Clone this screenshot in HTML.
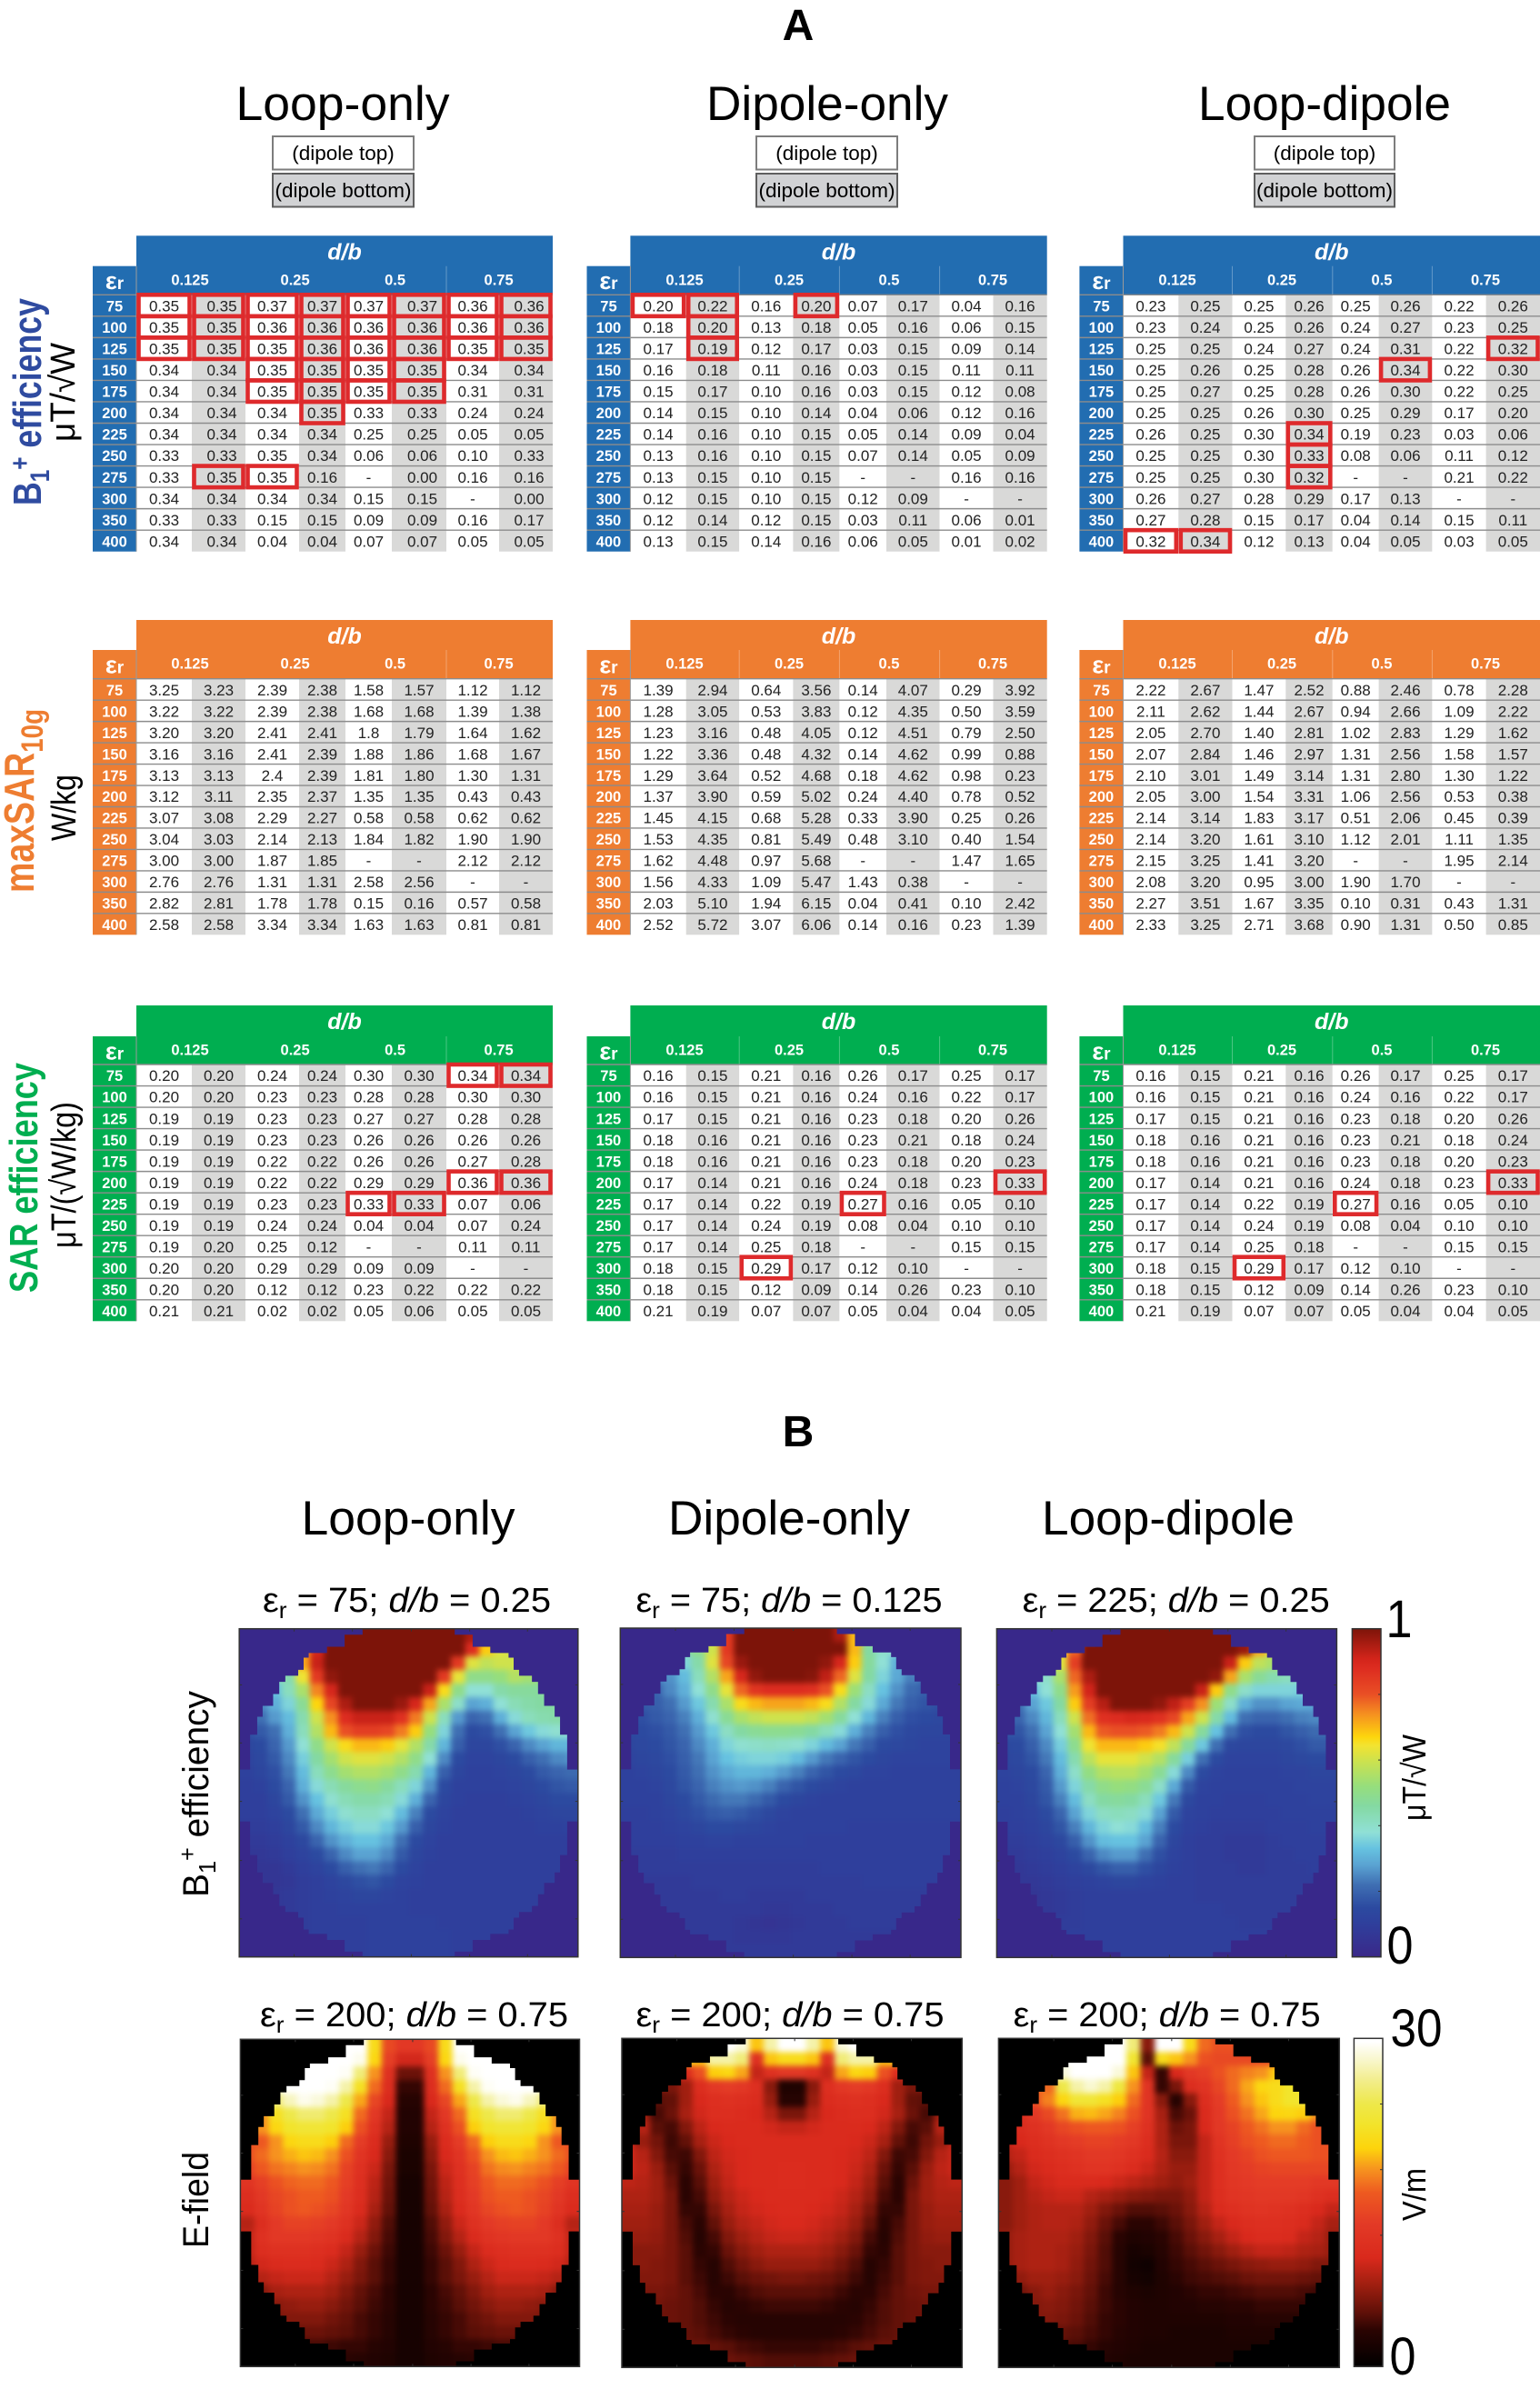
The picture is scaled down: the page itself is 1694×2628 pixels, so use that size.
<!DOCTYPE html>
<html>
<head>
<meta charset="utf-8">
<title>Coil performance tables and field maps</title>
<style>
html,body{margin:0;padding:0;background:#fff;}
svg{display:block;font-family:"Liberation Sans",sans-serif;}
</style>
</head>
<body>
<svg id="fig" xmlns="http://www.w3.org/2000/svg" width="1694" height="2628" viewBox="0 0 1694 2628">
<rect x="0" y="0" width="1694" height="2628" fill="#fff"/>
<defs>
<filter id="soften" color-interpolation-filters="sRGB" x="-10%" y="-10%" width="120%" height="120%"><feGaussianBlur stdDeviation="3.2"/></filter>
<linearGradient id="jetGrad" x1="0" y1="1" x2="0" y2="0"></linearGradient>
<linearGradient id="hotGrad" x1="0" y1="1" x2="0" y2="0"></linearGradient>
</defs>

<text x="878" y="44" font-size="48" font-weight="bold" text-anchor="middle">A</text>
<text x="377" y="132" font-size="53" text-anchor="middle" textLength="235" lengthAdjust="spacingAndGlyphs">Loop-only</text>
<text x="910" y="132" font-size="53" text-anchor="middle" textLength="266" lengthAdjust="spacingAndGlyphs">Dipole-only</text>
<text x="1457" y="132" font-size="53" text-anchor="middle" textLength="278" lengthAdjust="spacingAndGlyphs">Loop-dipole</text>

<g>
<rect x="300" y="150" width="155" height="36.5" fill="#fff" stroke="#7d7d7d" stroke-width="2"/>
<text x="377.500" y="176" font-size="22.500" text-anchor="middle">(dipole top)</text>
<rect x="300" y="191" width="155" height="36.5" fill="#d1d2d4" stroke="#5f5f5f" stroke-width="2"/>
<text x="377.500" y="217" font-size="22.500" text-anchor="middle">(dipole bottom)</text>
</g>
<g>
<rect x="832" y="150" width="155" height="36.5" fill="#fff" stroke="#7d7d7d" stroke-width="2"/>
<text x="909.500" y="176" font-size="22.500" text-anchor="middle">(dipole top)</text>
<rect x="832" y="191" width="155" height="36.5" fill="#d1d2d4" stroke="#5f5f5f" stroke-width="2"/>
<text x="909.500" y="217" font-size="22.500" text-anchor="middle">(dipole bottom)</text>
</g>
<g>
<rect x="1380" y="150" width="154" height="36.5" fill="#fff" stroke="#7d7d7d" stroke-width="2"/>
<text x="1457" y="176" font-size="22.500" text-anchor="middle">(dipole top)</text>
<rect x="1380" y="191" width="154" height="36.5" fill="#d1d2d4" stroke="#5f5f5f" stroke-width="2"/>
<text x="1457" y="217" font-size="22.500" text-anchor="middle">(dipole bottom)</text>
</g>

<text transform="translate(45,556) rotate(-90)" font-size="44" font-weight="bold" fill="#2f4ba0" textLength="228" lengthAdjust="spacingAndGlyphs">B<tspan font-size="30" dy="9">1</tspan><tspan font-size="30" dy="-22">+</tspan><tspan dy="13"> efficiency</tspan></text>
<text transform="translate(82,486) rotate(-90)" font-size="38" textLength="109" lengthAdjust="spacingAndGlyphs">μT/√W</text>
<text transform="translate(37,982) rotate(-90)" font-size="46" font-weight="bold" fill="#ee7d31" textLength="202" lengthAdjust="spacingAndGlyphs">maxSAR<tspan font-size="34" dy="10">10g</tspan></text>
<text transform="translate(83,925) rotate(-90)" font-size="38" textLength="73" lengthAdjust="spacingAndGlyphs">W/kg</text>
<text transform="translate(41,1422) rotate(-90)" font-size="44" font-weight="bold" fill="#00ae50" textLength="253" lengthAdjust="spacingAndGlyphs">SAR efficiency</text>
<text transform="translate(83,1373) rotate(-90)" font-size="38" textLength="161" lengthAdjust="spacingAndGlyphs">μT/(√W/kg)</text>

<g id="tables"></g>

<text x="878" y="1591" font-size="48" font-weight="bold" text-anchor="middle">B</text>
<text x="449" y="1688" font-size="53" text-anchor="middle" textLength="235" lengthAdjust="spacingAndGlyphs">Loop-only</text>
<text x="868" y="1688" font-size="53" text-anchor="middle" textLength="266" lengthAdjust="spacingAndGlyphs">Dipole-only</text>
<text x="1285" y="1688" font-size="53" text-anchor="middle" textLength="278" lengthAdjust="spacingAndGlyphs">Loop-dipole</text>

<text x="289" y="1773" font-size="38" textLength="317" lengthAdjust="spacingAndGlyphs">ε<tspan font-size="25" dy="7">r</tspan><tspan dy="-7"> = 75; </tspan><tspan font-style="italic">d/b</tspan> = 0.25</text>
<text x="699.500" y="1773" font-size="38" textLength="337" lengthAdjust="spacingAndGlyphs">ε<tspan font-size="25" dy="7">r</tspan><tspan dy="-7"> = 75; </tspan><tspan font-style="italic">d/b</tspan> = 0.125</text>
<text x="1124.700" y="1773" font-size="38" textLength="338" lengthAdjust="spacingAndGlyphs">ε<tspan font-size="25" dy="7">r</tspan><tspan dy="-7"> = 225; </tspan><tspan font-style="italic">d/b</tspan> = 0.25</text>
<text x="286" y="2229" font-size="38" textLength="339" lengthAdjust="spacingAndGlyphs">ε<tspan font-size="25" dy="7">r</tspan><tspan dy="-7"> = 200; </tspan><tspan font-style="italic">d/b</tspan> = 0.75</text>
<text x="699.500" y="2229" font-size="38" textLength="339" lengthAdjust="spacingAndGlyphs">ε<tspan font-size="25" dy="7">r</tspan><tspan dy="-7"> = 200; </tspan><tspan font-style="italic">d/b</tspan> = 0.75</text>
<text x="1114.600" y="2229" font-size="38" textLength="338" lengthAdjust="spacingAndGlyphs">ε<tspan font-size="25" dy="7">r</tspan><tspan dy="-7"> = 200; </tspan><tspan font-style="italic">d/b</tspan> = 0.75</text>

<text transform="translate(229,2087) rotate(-90)" font-size="40" textLength="227" lengthAdjust="spacingAndGlyphs">B<tspan font-size="26" dy="8">1</tspan><tspan font-size="26" dy="-22">+</tspan><tspan dy="14"> efficiency</tspan></text>
<text transform="translate(229,2473) rotate(-90)" font-size="40" textLength="106" lengthAdjust="spacingAndGlyphs">E-field</text>

<g id="maps"></g>

<rect x="1487.400" y="1791.700" width="31.600" height="361" fill="url(#jetGrad)" stroke="#333" stroke-width="1.500"/>
<rect x="1489.400" y="2242.300" width="31.600" height="361" fill="url(#hotGrad)" stroke="#333" stroke-width="1.500"/>
<g id="cbTicks"></g>
<text x="1539" y="1801" font-size="58" text-anchor="middle" textLength="29" lengthAdjust="spacingAndGlyphs">1</text>
<text x="1540" y="2160" font-size="58" text-anchor="middle" textLength="29" lengthAdjust="spacingAndGlyphs">0</text>
<text transform="translate(1568,2003) rotate(-90)" font-size="36" textLength="95" lengthAdjust="spacingAndGlyphs">μT/√W</text>
<text x="1558" y="2251" font-size="58" text-anchor="middle" textLength="57" lengthAdjust="spacingAndGlyphs">30</text>
<text x="1543" y="2612" font-size="58" text-anchor="middle" textLength="29" lengthAdjust="spacingAndGlyphs">0</text>
<text transform="translate(1568,2443) rotate(-90)" font-size="36" textLength="58" lengthAdjust="spacingAndGlyphs">V/m</text>
</svg>

<script>
// ---- table data ----
const permittivity = [75,100,125,150,175,200,225,250,275,300,350,400];
const ratioLabels = ['0.125','0.25','0.5','0.75'];

const b1Loop = [
[.35,.35,.37,.37,.37,.37,.36,.36],[.35,.35,.36,.36,.36,.36,.36,.36],[.35,.35,.35,.36,.36,.36,.35,.35],
[.34,.34,.35,.35,.35,.35,.34,.34],[.34,.34,.35,.35,.35,.35,.31,.31],[.34,.34,.34,.35,.33,.33,.24,.24],
[.34,.34,.34,.34,.25,.25,.05,.05],[.33,.33,.35,.34,.06,.06,.10,.33],[.33,.35,.35,.16,null,0,.16,.16],
[.34,.34,.34,.34,.15,.15,null,0],[.33,.33,.15,.15,.09,.09,.16,.17],[.34,.34,.04,.04,.07,.07,.05,.05]];
const b1Dipole = [
[.20,.22,.16,.20,.07,.17,.04,.16],[.18,.20,.13,.18,.05,.16,.06,.15],[.17,.19,.12,.17,.03,.15,.09,.14],
[.16,.18,.11,.16,.03,.15,.11,.11],[.15,.17,.10,.16,.03,.15,.12,.08],[.14,.15,.10,.14,.04,.06,.12,.16],
[.14,.16,.10,.15,.05,.14,.09,.04],[.13,.16,.10,.15,.07,.14,.05,.09],[.13,.15,.10,.15,null,null,.16,.16],
[.12,.15,.10,.15,.12,.09,null,null],[.12,.14,.12,.15,.03,.11,.06,.01],[.13,.15,.14,.16,.06,.05,.01,.02]];
const b1LoopDipole = [
[.23,.25,.25,.26,.25,.26,.22,.26],[.23,.24,.25,.26,.24,.27,.23,.25],[.25,.25,.24,.27,.24,.31,.22,.32],
[.25,.26,.25,.28,.26,.34,.22,.30],[.25,.27,.25,.28,.26,.30,.22,.25],[.25,.25,.26,.30,.25,.29,.17,.20],
[.26,.25,.30,.34,.19,.23,.03,.06],[.25,.25,.30,.33,.08,.06,.11,.12],[.25,.25,.30,.32,null,null,.21,.22],
[.26,.27,.28,.29,.17,.13,null,null],[.27,.28,.15,.17,.04,.14,.15,.11],[.32,.34,.12,.13,.04,.05,.03,.05]];

const sarLoop = [
[3.25,3.23,2.39,2.38,1.58,1.57,1.12,1.12],[3.22,3.22,2.39,2.38,1.68,1.68,1.39,1.38],[3.20,3.20,2.41,2.41,'1.8',1.79,1.64,1.62],
[3.16,3.16,2.41,2.39,1.88,1.86,1.68,1.67],[3.13,3.13,'2.4',2.39,1.81,1.80,1.30,1.31],[3.12,3.11,2.35,2.37,1.35,1.35,.43,.43],
[3.07,3.08,2.29,2.27,.58,.58,.62,.62],[3.04,3.03,2.14,2.13,1.84,1.82,1.90,1.90],[3.00,3.00,1.87,1.85,null,null,2.12,2.12],
[2.76,2.76,1.31,1.31,2.58,2.56,null,null],[2.82,2.81,1.78,1.78,.15,.16,.57,.58],[2.58,2.58,3.34,3.34,1.63,1.63,.81,.81]];
const sarDipole = [
[1.39,2.94,.64,3.56,.14,4.07,.29,3.92],[1.28,3.05,.53,3.83,.12,4.35,.50,3.59],[1.23,3.16,.48,4.05,.12,4.51,.79,2.50],
[1.22,3.36,.48,4.32,.14,4.62,.99,.88],[1.29,3.64,.52,4.68,.18,4.62,.98,.23],[1.37,3.90,.59,5.02,.24,4.40,.78,.52],
[1.45,4.15,.68,5.28,.33,3.90,.25,.26],[1.53,4.35,.81,5.49,.48,3.10,.40,1.54],[1.62,4.48,.97,5.68,null,null,1.47,1.65],
[1.56,4.33,1.09,5.47,1.43,.38,null,null],[2.03,5.10,1.94,6.15,.04,.41,.10,2.42],[2.52,5.72,3.07,6.06,.14,.16,.23,1.39]];
const sarLoopDipole = [
[2.22,2.67,1.47,2.52,.88,2.46,.78,2.28],[2.11,2.62,1.44,2.67,.94,2.66,1.09,2.22],[2.05,2.70,1.40,2.81,1.02,2.83,1.29,1.62],
[2.07,2.84,1.46,2.97,1.31,2.56,1.58,1.57],[2.10,3.01,1.49,3.14,1.31,2.80,1.30,1.22],[2.05,3.00,1.54,3.31,1.06,2.56,.53,.38],
[2.14,3.14,1.83,3.17,.51,2.06,.45,.39],[2.14,3.20,1.61,3.10,1.12,2.01,1.11,1.35],[2.15,3.25,1.41,3.20,null,null,1.95,2.14],
[2.08,3.20,.95,3.00,1.90,1.70,null,null],[2.27,3.51,1.67,3.35,.10,.31,.43,1.31],[2.33,3.25,2.71,3.68,.90,1.31,.50,.85]];

const effLoop = [
[.20,.20,.24,.24,.30,.30,.34,.34],[.20,.20,.23,.23,.28,.28,.30,.30],[.19,.19,.23,.23,.27,.27,.28,.28],
[.19,.19,.23,.23,.26,.26,.26,.26],[.19,.19,.22,.22,.26,.26,.27,.28],[.19,.19,.22,.22,.29,.29,.36,.36],
[.19,.19,.23,.23,.33,.33,.07,.06],[.19,.19,.24,.24,.04,.04,.07,.24],[.19,.20,.25,.12,null,null,.11,.11],
[.20,.20,.29,.29,.09,.09,null,null],[.20,.20,.12,.12,.23,.22,.22,.22],[.21,.21,.02,.02,.05,.06,.05,.05]];
const effDipole = [
[.16,.15,.21,.16,.26,.17,.25,.17],[.16,.15,.21,.16,.24,.16,.22,.17],[.17,.15,.21,.16,.23,.18,.20,.26],
[.18,.16,.21,.16,.23,.21,.18,.24],[.18,.16,.21,.16,.23,.18,.20,.23],[.17,.14,.21,.16,.24,.18,.23,.33],
[.17,.14,.22,.19,.27,.16,.05,.10],[.17,.14,.24,.19,.08,.04,.10,.10],[.17,.14,.25,.18,null,null,.15,.15],
[.18,.15,.29,.17,.12,.10,null,null],[.18,.15,.12,.09,.14,.26,.23,.10],[.21,.19,.07,.07,.05,.04,.04,.05]];
const effLoopDipole = [
[.16,.15,.21,.16,.26,.17,.25,.17],[.16,.15,.21,.16,.24,.16,.22,.17],[.17,.15,.21,.16,.23,.18,.20,.26],
[.18,.16,.21,.16,.23,.21,.18,.24],[.18,.16,.21,.16,.23,.18,.20,.23],[.17,.14,.21,.16,.24,.18,.23,.33],
[.17,.14,.22,.19,.27,.16,.05,.10],[.17,.14,.24,.19,.08,.04,.10,.10],[.17,.14,.25,.18,null,null,.15,.15],
[.18,.15,.29,.17,.12,.10,null,null],[.18,.15,.12,.09,.14,.26,.23,.10],[.21,.19,.07,.07,.05,.04,.04,.05]];

// highlighted cells: [row index, column index]
const hlB1Loop = [[0,0],[0,1],[0,2],[0,3],[0,4],[0,5],[0,6],[0,7],[1,0],[1,1],[1,2],[1,3],[1,4],[1,5],[1,6],[1,7],[2,0],[2,1],[2,2],[2,3],[2,4],[2,5],[2,6],[2,7],[3,2],[3,3],[3,4],[3,5],[4,2],[4,3],[4,4],[4,5],[5,3],[8,1],[8,2]];
const hlB1Dipole = [[0,0],[0,1],[1,1],[2,1],[0,3]];
const hlB1LoopDipole = [[2,7],[3,5],[6,3],[7,3],[8,3],[11,0],[11,1]];
const hlEffLoop = [[0,6],[0,7],[5,6],[5,7],[6,4],[6,5]];
const hlEffDipole = [[5,7],[6,4],[9,2]];
const hlEffLoopDipole = [[5,7],[6,4],[9,2]];

// ---- field map data (percent of colour scale, top row first) ----
const mapB1Loop = [
[60,60,60,60,70,85,100,100,100,100,100,100,100,100,100,100,95,80,60,60,60,60,60,60],
[60,60,60,60,72,90,100,100,100,100,100,100,100,100,100,100,88,68,62,60,60,60,60,60],
[55,55,55,60,72,92,100,100,100,100,100,100,100,100,100,85,62,58,60,60,58,58,58,58],
[42,42,42,44,64,85,98,100,100,100,100,100,100,100,85,63,50,50,52,56,54,52,52,52],
[33,33,33,42,55,75,90,100,100,100,100,100,100,92,66,50,38,38,45,47,47,47,47,47],
[25,25,30,36,48,67,82,95,100,100,100,97,90,72,55,40,28,30,38,43,45,46,46,46],
[22,22,27,32,44,60,74,88,92,92,92,87,76,60,42,27,20,22,30,37,42,44,45,45],
[16,18,22,30,42,56,70,80,84,84,82,76,68,52,36,22,15,16,22,28,34,37,39,38],
[13,15,20,27,38,50,60,66,70,70,68,63,56,45,31,19,13,13,16,20,25,28,31,31],
[12,14,18,25,35,46,54,60,62,62,60,56,50,38,25,15,12,12,13,15,19,22,25,26],
[11,13,16,23,32,42,49,54,56,56,54,50,44,31,19,13,11,11,12,13,15,18,20,21],
[10,11,15,20,30,37,43,47,49,50,47,42,36,26,15,11,11,11,11,12,13,15,17,18],
[10,10,13,18,26,33,39,43,45,45,43,37,30,20,13,11,10,10,10,11,12,13,15,15],
[10,10,12,15,22,29,35,39,41,41,38,32,24,15,12,10,10,10,10,10,11,12,13,13],
[9,9,10,13,18,25,31,35,37,37,34,27,19,13,11,10,10,10,10,10,10,11,11,12],
[8,8,9,11,14,20,26,30,33,33,29,22,15,12,10,10,10,10,10,10,10,10,10,10],
[7,7,8,10,12,15,20,25,28,28,25,18,13,11,10,10,10,10,10,10,10,10,10,10],
[6,6,6,8,10,12,15,19,22,23,20,15,12,10,10,10,10,10,10,10,10,10,10,10],
[6,6,6,7,9,10,12,14,16,17,15,12,11,10,10,10,10,10,10,10,10,10,10,10],
[6,6,7,8,9,10,11,12,13,13,12,11,10,10,10,10,10,10,10,10,10,10,10,10],
[7,7,7,8,9,10,10,11,11,11,11,11,10,10,10,10,10,10,10,10,10,10,10,10],
[8,8,8,9,9,10,10,10,10,11,11,11,11,11,10,10,10,10,10,10,10,10,10,10],
[9,9,9,9,9,10,10,10,10,11,11,11,11,11,11,10,10,10,10,10,10,10,10,10],
[10,10,10,10,10,10,10,10,10,11,11,11,11,11,11,10,10,10,10,10,10,10,10,10]];
const mapB1Dipole = [
[60,60,60,60,60,60,70,85,100,100,100,100,100,100,100,95,70,60,60,60,60,60,60,60],
[45,45,45,45,45,50,60,85,100,100,100,100,100,100,100,100,70,46,40,38,35,35,35,35],
[30,30,30,33,36,45,62,82,97,100,100,100,100,100,98,90,68,47,38,30,28,26,26,26],
[22,24,25,26,32,42,56,72,90,98,100,100,100,99,93,78,62,46,36,29,24,22,20,20],
[20,20,20,25,30,38,50,63,78,86,88,88,88,87,80,66,53,41,33,26,21,19,18,18],
[17,18,19,22,27,34,44,55,66,70,72,72,72,70,66,56,46,37,29,23,19,17,16,16],
[15,16,18,20,24,30,39,48,55,58,60,60,60,58,54,47,38,31,24,19,16,15,14,14],
[14,15,16,18,22,27,34,41,46,48,49,49,48,46,42,37,30,24,19,16,14,13,13,13],
[13,14,15,17,20,25,30,36,39,40,41,40,39,36,32,28,23,19,15,14,13,12,12,12],
[12,13,14,16,19,23,28,33,35,36,36,35,32,27,23,20,17,15,13,12,12,12,12,12],
[11,12,13,15,18,22,26,29,31,31,30,27,24,20,17,15,14,12,12,11,11,11,11,11],
[11,11,12,14,17,20,24,26,27,26,24,20,17,15,13,12,11,11,11,11,11,11,11,11],
[11,11,11,13,15,18,21,23,23,21,18,15,13,12,11,11,11,11,11,11,11,11,11,11],
[10,10,11,12,14,16,18,19,18,16,14,12,11,11,11,11,11,11,11,11,11,11,11,11],
[10,10,10,11,12,13,15,15,14,13,12,11,11,11,11,11,10,10,10,10,10,10,10,10],
[10,10,10,10,11,11,12,12,11,11,11,11,11,10,10,10,10,10,10,10,10,10,10,10],
[9,9,9,9,10,10,10,10,10,10,10,10,10,10,10,10,10,10,10,10,10,10,10,10],
[9,9,9,9,9,9,9,9,9,9,9,9,9,9,10,10,10,10,10,10,10,10,10,10],
[8,8,8,8,8,9,9,9,9,9,9,9,9,9,9,9,9,10,10,10,10,10,10,10],
[8,8,8,8,8,8,8,9,9,8,8,8,8,9,9,9,9,9,9,9,9,9,9,9],
[8,8,8,8,8,8,8,8,8,8,7,7,8,8,8,9,9,9,9,9,9,9,9,9],
[8,8,8,8,8,8,8,8,7,6,5,6,7,8,8,8,9,9,9,9,9,9,9,9],
[8,8,8,8,8,8,8,8,7,7,7,7,8,8,8,8,8,8,8,8,8,8,8,8],
[8,8,8,8,8,8,8,8,8,8,8,8,8,8,8,8,8,8,8,8,8,8,8,8]];
const mapB1LoopDipole = [
[65,65,65,65,65,70,85,100,100,100,100,100,100,100,100,100,100,90,75,65,65,65,65,65],
[62,62,62,62,65,78,100,100,100,100,100,100,100,100,100,100,100,97,72,62,60,60,60,60],
[50,50,50,55,62,84,100,100,100,100,100,100,100,100,100,100,92,68,58,55,52,50,50,50],
[35,36,38,40,55,78,95,100,100,100,100,100,100,100,100,98,72,55,48,44,42,40,40,40],
[30,30,32,38,50,73,91,100,100,100,100,100,100,100,92,68,50,40,36,36,36,35,34,34],
[22,22,28,34,46,68,84,94,100,100,100,98,93,84,74,53,40,30,26,26,28,29,28,28],
[20,20,25,31,42,60,77,87,88,90,89,87,82,72,60,45,32,22,20,20,22,24,25,25],
[17,17,22,28,38,54,70,79,80,80,79,76,70,60,47,33,22,16,15,15,17,19,21,21],
[14,15,19,25,35,49,64,70,70,70,68,65,58,47,34,22,14,13,13,13,14,16,18,18],
[13,14,17,23,32,44,57,63,63,63,60,56,47,35,22,15,12,12,12,12,13,14,15,15],
[12,13,15,20,30,40,51,56,57,57,54,48,37,25,15,12,11,11,11,11,12,12,13,13],
[11,12,14,18,27,36,45,50,52,51,48,40,29,18,12,11,11,11,11,11,11,12,12,12],
[11,11,13,17,24,32,41,46,47,46,42,34,23,14,11,11,10,10,10,11,11,11,12,12],
[10,11,12,15,20,28,36,41,42,41,37,28,18,12,11,10,10,10,10,10,11,11,11,11],
[10,10,11,13,17,24,31,36,38,37,32,24,15,11,10,9,9,9,9,10,10,10,11,11],
[9,9,10,12,14,19,26,32,33,33,28,20,13,10,9,9,8,8,8,9,10,10,10,10],
[8,8,9,10,12,15,20,25,27,27,22,16,12,10,9,9,8,8,8,9,9,10,10,10],
[7,7,8,9,10,12,14,17,19,19,16,13,11,10,9,9,9,8,8,9,9,9,10,10],
[7,7,7,8,9,10,11,12,13,13,12,11,10,10,9,9,9,9,9,9,9,9,9,9],
[7,7,6,7,8,9,10,10,10,10,10,10,10,10,9,9,9,9,9,9,9,9,9,9],
[7,7,6,7,8,9,10,10,10,10,10,10,10,10,10,10,9,9,9,9,9,9,9,9],
[9,9,9,9,9,9,10,10,10,10,10,10,10,10,10,10,10,9,9,9,9,9,9,9],
[9,9,9,9,9,10,10,10,10,10,10,10,10,10,10,10,10,10,10,10,10,10,10,10],
[10,10,10,10,10,10,10,10,10,10,10,10,10,10,10,10,10,10,10,10,10,10,10,10]];
const mapELoop = [
[100,100,100,100,100,100,100,100,100,70,48,42,42,48,70,100,100,100,100,100,100,100,100,100],
[100,100,100,100,100,100,100,100,97,68,45,32,32,45,68,97,100,100,100,100,100,100,100,100],
[100,100,100,100,100,100,100,98,85,60,38,18,18,38,60,85,98,100,100,100,100,100,100,100],
[95,95,95,100,100,100,98,90,72,55,36,12,12,36,55,72,90,98,100,100,100,95,95,95],
[85,85,85,92,97,95,90,80,62,47,33,10,10,33,47,62,80,90,95,97,92,85,85,85],
[60,60,72,80,84,84,80,72,55,42,30,9,9,30,42,55,72,80,84,84,80,72,60,60],
[58,60,68,74,76,76,74,66,50,38,28,9,9,28,38,50,66,74,76,76,74,68,60,58],
[50,52,60,68,70,70,66,55,44,35,24,8,8,24,35,44,55,66,70,70,68,60,52,50],
[50,55,60,63,65,64,60,50,40,33,22,7,7,22,33,40,50,60,64,65,63,60,55,50],
[46,52,56,58,60,59,56,46,38,31,20,7,7,20,31,38,46,56,59,60,58,56,52,46],
[40,45,50,54,55,55,52,45,37,29,19,6,6,19,29,37,45,52,55,55,54,50,45,40],
[36,42,47,50,53,53,50,43,36,28,18,6,6,18,28,36,43,50,53,53,50,47,42,36],
[34,40,46,50,52,50,47,41,34,26,17,6,6,17,26,34,41,47,50,52,50,46,40,34],
[28,36,43,46,46,45,43,38,31,23,15,6,6,15,23,31,38,43,45,46,46,43,36,28],
[30,38,42,42,42,41,39,34,28,21,14,6,6,14,21,28,34,39,41,42,42,42,38,30],
[30,36,38,38,38,37,35,30,24,18,13,6,6,13,18,24,30,35,37,38,38,38,36,30],
[28,32,34,35,35,34,31,27,21,16,12,6,6,12,16,21,27,31,34,35,35,34,32,28],
[25,28,30,31,31,31,28,24,20,16,12,6,6,12,16,20,24,28,31,31,31,30,28,25],
[20,22,26,27,27,27,25,21,17,14,11,6,6,11,14,17,21,25,27,27,27,26,22,20],
[18,20,22,23,24,24,22,19,16,13,11,6,6,11,13,16,19,22,24,24,23,22,20,18],
[17,18,20,21,21,21,19,17,14,12,10,6,6,10,12,14,17,19,21,21,21,20,18,17],
[16,17,18,18,18,18,17,16,14,12,10,6,6,10,12,14,16,17,18,18,18,18,17,16],
[14,14,14,14,14,14,13,12,12,10,9,6,6,9,10,12,12,13,14,14,14,14,14,14],
[12,12,12,12,12,12,11,11,10,9,8,6,6,8,9,10,11,11,12,12,12,12,12,12]];
const mapEDipole = [
[100,100,100,100,100,100,100,100,95,65,90,100,100,90,65,95,100,100,100,100,100,100,100,100],
[70,70,70,70,70,65,90,90,85,38,65,70,70,65,38,85,90,90,65,70,70,70,70,70],
[35,35,35,35,35,50,66,68,62,30,38,42,42,38,30,62,68,66,50,35,35,35,35,35],
[20,20,20,20,25,36,42,44,42,37,22,8,8,22,37,42,44,42,36,25,20,20,20,20],
[16,16,16,17,25,33,37,38,37,35,24,10,10,24,35,37,38,37,33,25,17,16,16,16],
[25,25,14,18,26,32,36,36,35,33,28,20,20,28,33,35,36,36,32,26,18,14,25,25],
[28,28,16,14,21,29,33,34,34,34,32,30,30,32,34,34,34,33,29,21,14,16,28,28],
[30,24,19,13,17,26,31,33,34,34,34,34,34,34,34,34,33,31,26,17,13,19,24,30],
[31,28,21,14,13,21,29,32,33,34,34,34,34,34,34,33,32,29,21,13,14,21,28,31],
[31,29,24,16,12,18,27,31,33,34,34,35,35,34,34,33,31,27,18,12,16,24,29,31],
[29,28,25,18,11,16,25,30,33,34,34,35,35,34,34,33,30,25,16,11,18,25,28,29],
[27,27,25,20,11,14,23,28,31,33,34,34,34,34,33,31,28,23,14,11,20,25,27,27],
[26,26,24,20,12,12,20,26,30,32,33,34,34,33,32,30,26,20,12,12,20,24,26,26],
[25,25,24,20,14,11,17,24,28,30,32,33,33,32,30,28,24,17,11,14,20,24,25,25],
[24,24,23,20,15,10,14,21,25,28,30,31,31,30,28,25,21,14,10,15,20,23,24,24],
[22,22,22,20,16,11,12,18,22,25,27,27,27,27,25,22,18,12,11,16,20,22,22,22],
[22,22,21,20,16,12,10,15,19,22,24,24,24,24,22,19,15,10,12,16,20,21,22,22],
[20,21,21,20,16,13,10,13,16,18,19,20,20,19,18,16,13,10,13,16,20,21,21,20],
[20,20,20,19,17,14,11,11,13,15,16,16,16,16,15,13,11,11,14,17,19,20,20,20],
[20,20,19,18,17,15,12,10,11,12,13,13,13,13,12,11,10,12,15,17,18,19,20,20],
[19,19,18,18,17,15,13,11,10,10,10,10,10,10,10,10,11,13,15,17,18,18,19,19],
[18,18,18,18,17,16,14,12,11,10,10,10,10,10,10,11,12,14,16,17,18,18,18,18],
[18,18,18,18,18,18,17,16,14,13,12,12,12,12,13,14,16,17,18,18,18,18,18,18],
[18,18,18,18,18,18,18,18,17,16,15,15,15,15,16,17,18,18,18,18,18,18,18,18]];
const mapELoopDipole = [
[100,100,100,100,100,100,100,100,100,85,22,100,100,70,55,50,50,50,50,50,50,50,50,50],
[100,100,100,100,100,100,100,100,100,75,16,70,65,60,50,48,48,48,48,48,48,48,48,48],
[95,95,95,95,95,100,100,100,95,65,30,12,33,42,45,50,55,58,60,65,65,65,65,65],
[55,55,55,55,80,90,94,90,78,60,40,12,20,36,40,47,55,62,68,70,74,72,72,72],
[50,50,50,58,68,76,76,72,66,55,40,22,10,22,36,44,53,60,65,70,74,76,76,76],
[36,36,42,48,56,63,64,62,58,50,40,26,14,18,34,43,50,56,62,67,68,66,60,60],
[33,35,38,42,47,50,52,52,50,45,38,27,18,20,33,42,46,52,56,60,60,55,50,50],
[30,33,36,39,42,44,46,46,44,42,36,27,20,20,30,40,45,50,53,55,55,53,50,50],
[28,30,34,36,38,40,42,42,41,38,34,28,22,22,30,38,43,46,50,52,52,52,50,50],
[24,28,32,34,36,38,40,40,38,35,31,27,24,24,30,37,42,44,46,47,47,47,47,47],
[22,25,30,32,34,34,34,33,31,29,27,25,23,25,30,37,41,43,44,44,44,44,42,42],
[22,25,28,30,31,31,28,26,24,22,21,20,20,23,30,36,40,41,42,42,42,41,38,36],
[22,25,27,28,28,28,25,21,18,15,15,16,18,22,28,34,37,39,40,39,38,36,33,30],
[22,25,27,28,28,27,23,18,14,11,11,13,16,20,25,30,33,36,37,37,36,34,30,26],
[24,26,27,27,27,25,21,16,11,8,9,11,14,18,22,26,30,33,35,35,34,30,28,24],
[24,26,27,27,26,24,20,15,10,6,7,10,13,16,19,22,25,28,30,30,29,27,26,24],
[24,26,27,27,26,23,19,15,10,5,4,9,12,14,16,18,20,22,23,24,24,23,21,21],
[21,23,25,25,24,22,18,14,10,6,5,8,11,13,14,15,16,18,19,19,19,18,17,17],
[16,19,22,24,22,20,17,13,10,8,7,8,9,11,12,12,13,14,15,15,15,14,13,13],
[19,19,21,22,21,19,16,13,11,9,8,8,9,9,10,10,11,11,12,12,12,12,11,11],
[19,19,21,21,20,18,15,12,11,9,8,8,8,8,8,8,9,9,10,10,10,10,10,10],
[18,18,18,18,17,16,14,12,10,9,8,8,7,7,7,7,8,8,8,8,8,8,8,8],
[16,16,16,16,15,14,12,10,9,8,7,7,7,7,7,7,7,7,7,7,7,7,7,7],
[14,14,14,14,13,12,10,9,8,7,7,7,7,7,7,7,7,7,7,7,7,7,7,7]];

// ---- colour scale stops: [scale percent, colour] ----
const jetStops = [[0,'#3a2889'],[10,'#2f3f9c'],[15,'#2c4aa0'],[22,'#3f6fb3'],[28,'#5aa3d2'],[33,'#66c2e0'],[38,'#90e0d6'],[46,'#84d9a2'],[52,'#96de7c'],[60,'#cfe24c'],[64.5,'#f3e330'],[67,'#fdd60d'],[74,'#f59020'],[80,'#e94f25'],[88,'#dd2c20'],[91,'#d2241a'],[100,'#7d1409']];
const hotStops = [[0,'#000000'],[11,'#2a0402'],[16.6,'#601008'],[25,'#a01f10'],[33,'#d9291c'],[43.5,'#e33a26'],[53,'#ee5a20'],[60,'#f6921f'],[66.5,'#fdd40c'],[74,'#f2e42c'],[80,'#eee84a'],[87,'#f2ed8a'],[93,'#f8f6c8'],[99,'#ffffff'],[100,'#ffffff']];

// ---- layout ----
const NS = 'http://www.w3.org/2000/svg';
const columnEdges = [
  [150,211,270,329,380,431,491,549,608],
  [693.4,754.7,813.2,872.4,923.4,975,1033.6,1092.5,1151.7],
  [1235.5,1296.3,1355.5,1414.3,1465.8,1516.6,1575.4,1634.6,1694]];
const epsilonLeft = [102,645.5,1187.4];
const groupCenters = [[209,324.6,434.6,548.6],[753,868,978,1092],[1295,1410,1520,1634]];
const groupDividers = [[6],[2,4,6],[2,4,6]];
const sectionTops = [
  {top:259.3,eps:292.7,row:324.3,bottom:606.7,color:'#226db1'},
  {top:682,eps:715,row:746.7,bottom:1028.3,color:'#ee7d31'},
  {top:1106,eps:1140,row:1171,bottom:1453.3,color:'#00ae50'}];
const tableList = [
  [b1Loop,hlB1Loop,0,0],[b1Dipole,hlB1Dipole,0,1],[b1LoopDipole,hlB1LoopDipole,0,2],
  [sarLoop,[],1,0],[sarDipole,[],1,1],[sarLoopDipole,[],1,2],
  [effLoop,hlEffLoop,2,0],[effDipole,hlEffDipole,2,1],[effLoopDipole,hlEffLoopDipole,2,2]];

function mk(parent, tag, attrs){
  const el = document.createElementNS(NS, tag);
  for (const k in attrs) el.setAttribute(k, attrs[k]);
  parent.appendChild(el);
  return el;
}
function fmt(v){ return v === null ? '-' : (typeof v === 'string' ? v : v.toFixed(2)); }

function drawTable(values, highlights, sectionIdx, colIdx){
  const root = document.getElementById('tables');
  const s = sectionTops[sectionIdx];
  const edges = columnEdges[colIdx];
  const left = epsilonLeft[colIdx];
  const rowH = (s.bottom - s.row) / permittivity.length;
  const rowY = r => s.row + r * rowH;
  const g = mk(root, 'g', {});
  
  

  const head = mk(g, 'rect', {x:edges[0], y:s.top, width:edges[8]-edges[0], height:s.row-s.top, fill:s.color});
  
  
  const eps = mk(g, 'rect', {x:left, y:s.eps, width:edges[0]-left, height:s.bottom-s.eps, fill:s.color});
  
  

  const db = mk(g, 'text', {x:(edges[0]+edges[8])/2, y:s.top+26, 'font-size':25, 'font-weight':'bold', 'font-style':'italic', fill:'#fff', 'text-anchor':'middle'});
  db.textContent = 'd/b';
  
  

  const epsLabel = mk(g, 'text', {x:(left+edges[0])/2, y:s.eps+25.5, 'font-size':27, 'font-weight':'bold', fill:'#fff', 'text-anchor':'middle'});
  epsLabel.textContent = 'ε';
  const epsSub = mk(epsLabel, 'tspan', {'font-size':19});
  epsSub.textContent = 'r';
  
  

  ratioLabels.forEach((t, i) => {
    const lab = mk(g, 'text', {x:groupCenters[colIdx][i], y:s.eps+20.6, 'font-size':16.5, 'font-weight':'bold', fill:'#fff', 'text-anchor':'middle'});
    lab.textContent = t;
    
    
  });
  groupDividers[colIdx].forEach(c => {
    const d = mk(g, 'line', {x1:edges[c], x2:edges[c], y1:s.eps, y2:s.row, stroke:'#fff', 'stroke-opacity':.3, 'stroke-width':1});
    
    
  });

  values.forEach((row, r) => {
    row.forEach((v, c) => {
      const cell = mk(g, 'rect', {x:edges[c], y:rowY(r), width:edges[c+1]-edges[c], height:rowH, fill:c % 2 ? '#d9d9d8' : '#ffffff'});
      
      
    });
  });
  for (let r = 0; r <= permittivity.length - 1; r++){
    const line = mk(g, 'line', {x1:left, x2:edges[8], y1:rowY(r), y2:rowY(r), stroke:'#8c8c8c', 'stroke-width':1.4});
    
    
  }
  const sep = mk(g, 'line', {x1:edges[0], x2:edges[0], y1:s.eps, y2:s.bottom, stroke:'#9a9a9a', 'stroke-width':1});
  
  

  permittivity.forEach((p, r) => {
    const lab = mk(g, 'text', {x:(left+edges[0])/2, y:rowY(r)+18.2, 'font-size':16.5, 'font-weight':'bold', fill:'#fff', 'text-anchor':'middle'});
    lab.textContent = p;
    
    
  });
  const nudged = sectionIdx === 0 && colIdx === 0;
  values.forEach((row, r) => {
    row.forEach((v, c) => {
      const shift = nudged && (c === 1 || c === 5 || c === 7) ? 3.5 : 0;
      const txt = mk(g, 'text', {x:(edges[c]+edges[c+1])/2+shift, y:rowY(r)+18.2, 'font-size':17, fill:'#222', 'text-anchor':'middle'});
      txt.textContent = fmt(v);
      
      
    });
  });
  highlights.forEach(h => {
    const r = h[0], c = h[1];
    const box = mk(g, 'rect', {x:edges[c]+2.5, y:rowY(r), width:edges[c+1]-edges[c]-5, height:rowH, fill:'none', stroke:'#de2a2c', 'stroke-width':4.6});
    
    
  });
}
tableList.forEach(t => drawTable(t[0], t[1], t[2], t[3]));

// colour scales
function hexToRgb(h){ return [parseInt(h.slice(1,3),16),parseInt(h.slice(3,5),16),parseInt(h.slice(5,7),16)]; }
function scaleColor(stops, v){
  const t = Math.max(0, Math.min(100, v));
  for (let i = 1; i < stops.length; i++){
    if (t <= stops[i][0]){
      const a = stops[i-1], b = stops[i];
      const f = (t - a[0]) / (b[0] - a[0] || 1);
      const ca = hexToRgb(a[1]), cb = hexToRgb(b[1]);
      return 'rgb(' + ca.map((x, k) => Math.round(x + (cb[k]-x)*f)).join(',') + ')';
    }
  }
  return stops[stops.length-1][1];
}
[['jetGrad',jetStops],['hotGrad',hotStops]].forEach(p => {
  const grad = document.getElementById(p[0]);
  p[1].forEach(st => mk(grad, 'stop', {offset:st[0]+'%', 'stop-color':st[1]}));
});

// stepped head outline: [start fraction from top, half width fraction]
const headTop = [[0,.136],[.018,.189],[.055,.241],[.074,.295],[.088,.31],[.125,.326],[.143,.364],[.162,.382],[.199,.40],[.235,.431],[.268,.447],[.323,.468],[.429,.5]];
const headSplit = .586;
const tickX = [.162,.334,.508,.68,.851];
const tickY = [.171,.348,.526,.706,.884];

const mapList = [
  {data:mapB1Loop, stops:jetStops, bg:'#38288a', x:263.2, y:1791.7, w:372.6, h:361, name:'map-b1-loop-only'},
  {data:mapB1Dipole, stops:jetStops, bg:'#38288a', x:682.3, y:1791, w:374.7, h:362.3, name:'map-b1-dipole-only'},
  {data:mapB1LoopDipole, stops:jetStops, bg:'#38288a', x:1096.4, y:1791.7, w:374, h:361.6, name:'map-b1-loop-dipole'},
  {data:mapELoop, stops:hotStops, bg:'#000000', x:264.4, y:2243.3, w:373.1, h:360, name:'map-e-field-loop-only'},
  {data:mapEDipole, stops:hotStops, bg:'#000000', x:684, y:2242.3, w:374.3, h:362, name:'map-e-field-dipole-only'},
  {data:mapELoopDipole, stops:hotStops, bg:'#000000', x:1098.4, y:2242.3, w:374.9, h:362, name:'map-e-field-loop-dipole'}];

function headBands(){
  const bands = [];
  headTop.forEach((b, i) => {
    const end = i + 1 < headTop.length ? headTop[i+1][0] : headSplit;
    bands.push([b[0], end, b[1]]);
  });
  const k = (1 - headSplit) / headTop[headTop.length-1][0];
  for (let i = headTop.length - 2; i >= 0; i--){
    const startT = headTop[i][0], endT = headTop[i+1][0];
    const ys = headSplit + (headTop[headTop.length-1][0] - endT) * k;
    const ye = headSplit + (headTop[headTop.length-1][0] - startT) * k;
    bands.push([ys, ye, headTop[i][1]]);
  }
  return bands;
}

function drawMap(m, idx){
  const root = document.getElementById('maps');
  const defs = document.querySelector('defs');
  const g = mk(root, 'g', {});
  
  
  const bg = mk(g, 'rect', {x:m.x, y:m.y, width:m.w, height:m.h, fill:m.bg});
  
  

  const clip = mk(defs, 'clipPath', {id:'head'+idx});
  headBands().forEach(b => {
    mk(clip, 'rect', {x:m.x + m.w*(.5-b[2]), y:m.y + m.h*b[0], width:m.w*2*b[2], height:m.h*(b[1]-b[0])+.4});
  });

  const rows = m.data.length, cols = m.data[0].length;
  const xScale = i => m.x + i * m.w / cols;
  const yScale = j => m.y + j * m.h / rows;
  const clipped = mk(g, 'g', {'clip-path':'url(#head'+idx+')'});
  const soft = mk(clipped, 'g', {filter:'url(#soften)'});
  const pad = 14;
  m.data.forEach((row, j) => {
    row.forEach((v, i) => {
      const x0 = xScale(i) - (i === 0 ? pad : 0);
      const x1 = xScale(i+1) + (i === cols-1 ? pad : .5);
      const y0 = yScale(j) - (j === 0 ? pad : 0);
      const y1 = yScale(j+1) + (j === rows-1 ? pad : .5);
      const cell = mk(soft, 'rect', {x:x0, y:y0, width:x1-x0, height:y1-y0, fill:scaleColor(m.stops, v)});
      
      
    });
  });

  const frame = mk(g, 'rect', {x:m.x, y:m.y, width:m.w, height:m.h, fill:'none', stroke:'#333', 'stroke-width':1.5});
  
  
  tickX.forEach(f => {
    const px = m.x + f*m.w;
    [[m.y, m.y+3],[m.y+m.h, m.y+m.h-3]].forEach(p => {
      const t = mk(g, 'line', {x1:px, x2:px, y1:p[0], y2:p[1], stroke:'#333', 'stroke-width':1});
      
      
    });
  });
  tickY.forEach(f => {
    const py = m.y + f*m.h;
    [[m.x, m.x+3],[m.x+m.w, m.x+m.w-3]].forEach(p => {
      const t = mk(g, 'line', {x1:p[0], x2:p[1], y1:py, y2:py, stroke:'#333', 'stroke-width':1});
      
      
    });
  });
}
mapList.forEach(drawMap);

// colour bar ticks
const cbTickFractions = [.2,.4,.6,.8];
[[1519,1791.7,361],[1521,2242.3,361]].forEach(b => {
  const host = document.getElementById('cbTicks');
  cbTickFractions.forEach(f => {
    const y = b[1] + f * b[2];
    const t = mk(host, 'line', {x1:b[0]-3, x2:b[0], y1:y, y2:y, stroke:'#333', 'stroke-width':1});
    
    
  });
});
</script>
</body>
</html>
